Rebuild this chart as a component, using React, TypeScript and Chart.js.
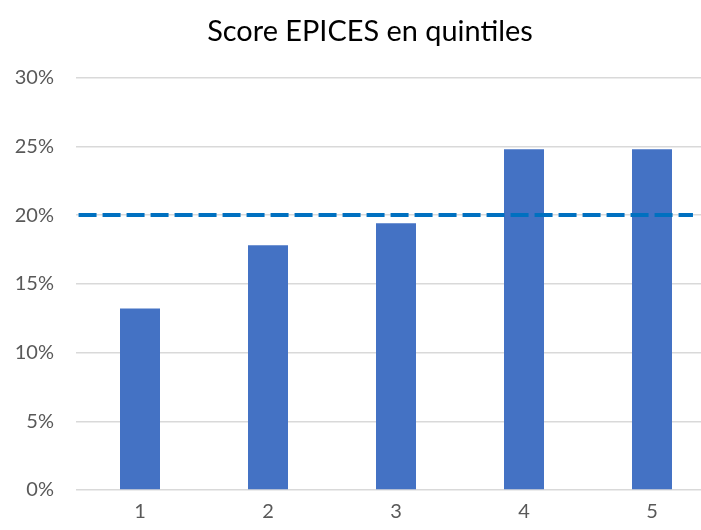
import React, { useEffect, useRef } from "react";
import { Chart, registerables } from "chart.js";

Chart.register(...registerables);

const categories = ["1", "2", "3", "4", "5"];
const barValues = [13.2, 17.8, 19.4, 24.8, 24.8];
const referenceValue = 20;
const referenceSpan = [-0.48, 4.32];
const yTicks = [0, 5, 10, 15, 20, 25, 30];
const titleText = "Score EPICES en quintiles";

export default function App() {
  const ref = useRef<HTMLCanvasElement | null>(null);

  useEffect(() => {
    if (!ref.current) return;
    const tickFont = { family: "Lato", size: 20 };
    const chart = new Chart(ref.current, {
      type: "bar",
      data: {
        labels: categories,
        datasets: [
          {
            type: "line",
            data: referenceSpan.map((x) => ({ x, y: referenceValue })) as any,
            xAxisID: "xLine",
            borderColor: "#0070C0",
            borderWidth: 4,
            borderDash: [18, 6],
            pointRadius: 0,
            fill: false,
            order: 0,
          } as any,
          {
            type: "bar",
            data: barValues,
            xAxisID: "x",
            backgroundColor: "#4472C4",
            borderWidth: 0,
            grouped: false,
            barPercentage: 0.3125,
            categoryPercentage: 1,
            order: 1,
          } as any,
        ],
      },
      options: {
        responsive: false,
        animation: false,
        layout: { padding: 0 },
        plugins: {
          legend: { display: false },
          tooltip: { enabled: false },
          title: {
            display: true,
            text: titleText,
            color: "#000000",
            font: { family: "Lato", size: 28.9, weight: "normal" },
            padding: { top: 14, bottom: 29 },
          },
        },
        scales: {
          x: {
            type: "category",
            offset: true,
            grid: { display: false, drawTicks: false },
            border: { display: false },
            ticks: { color: "#595959", font: tickFont, padding: 10 },
            afterFit: (s: any) => {
              s.height = 40;
            },
          },
          xLine: {
            type: "linear",
            display: false,
            offset: false,
            min: -0.5,
            max: 4.5,
          },
          y: {
            min: yTicks[0],
            max: yTicks[yTicks.length - 1],
            afterBuildTicks: (s: any) => {
              s.ticks = yTicks.map((v) => ({ value: v }));
            },
            grid: { color: "#D9D9D9", lineWidth: 1.5, drawTicks: false },
            border: { display: false },
            ticks: {
              color: "#595959",
              font: tickFont,
              padding: 22,
              callback: (v: any) => v + "%",
            },
            afterFit: (s: any) => {
              s.width = 76;
            },
          },
          ySpacer: {
            type: "linear",
            position: "right",
            display: true,
            grid: { display: false, drawTicks: false },
            border: { display: false },
            ticks: { display: false },
            afterFit: (s: any) => {
              s.width = 24;
            },
          },
        },
      } as any,
    });
    return () => chart.destroy();
  }, []);

  return (
    <div
      style={{
        position: "fixed",
        left: 0,
        top: 0,
        width: 701,
        height: 530,
        overflow: "hidden",
        background: "#ffffff",
      }}
    >
      <canvas ref={ref} width={740} height={530} style={{ width: 740, height: 530, display: "block" }} />
    </div>
  );
}
